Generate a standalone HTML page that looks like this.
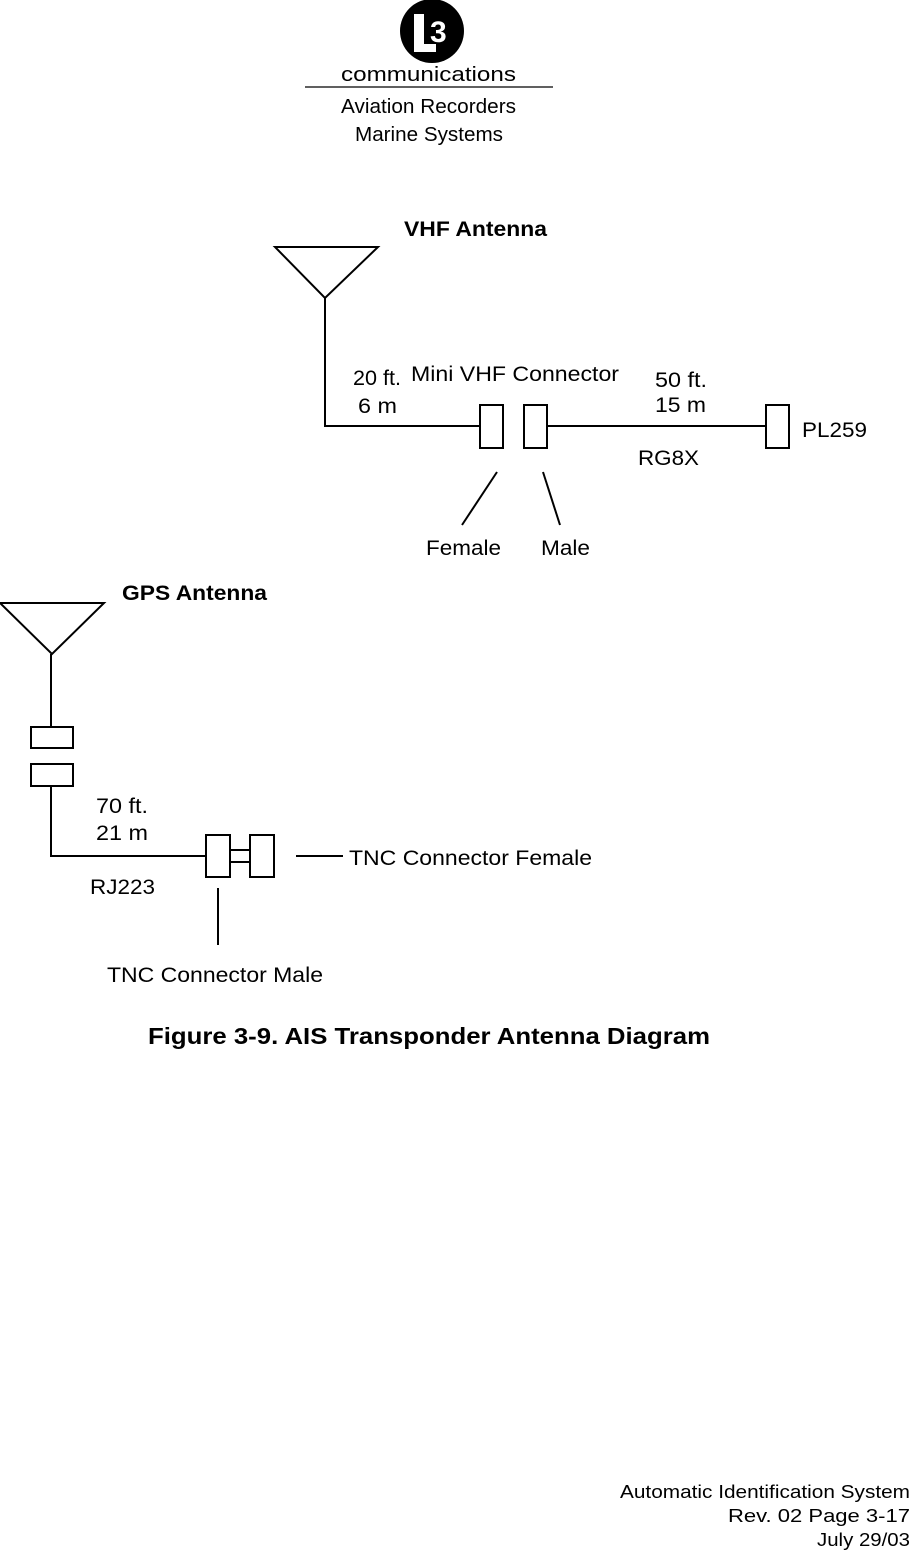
<!DOCTYPE html>
<html><head><style>
body{margin:0;background:#fff;}
svg text{font-family:"Liberation Sans",sans-serif;fill:#000;}
</style></head><body>
<svg width="910" height="1553" xmlns="http://www.w3.org/2000/svg">
<circle cx="432" cy="31" r="32" fill="#000"/>
<rect x="414" y="14" width="10" height="38" fill="#fff"/>
<rect x="414" y="44" width="22" height="8" fill="#fff"/>
<text x="430" y="42" font-size="30" font-weight="bold" style="fill:#fff">3</text>
<text x="341" y="81" font-size="20" textLength="175" lengthAdjust="spacingAndGlyphs">communications</text>
<line x1="305" y1="87" x2="553" y2="87" stroke="#000" stroke-width="1.2"/>
<text x="341" y="113" font-size="20" textLength="175" lengthAdjust="spacingAndGlyphs">Aviation Recorders</text>
<text x="355" y="141" font-size="20" textLength="148" lengthAdjust="spacingAndGlyphs">Marine Systems</text>

<g stroke="#000" stroke-width="2" fill="none">
<polygon points="275,247 378,247 325,298"/>
<polyline points="325,298 325,426 480,426"/>
<rect x="480" y="405" width="23" height="43" fill="#fff"/>
<rect x="524" y="405" width="23" height="43" fill="#fff"/>
<line x1="547" y1="426" x2="766" y2="426"/>
<rect x="766" y="405" width="23" height="43" fill="#fff"/>
<line x1="497" y1="472" x2="462" y2="525"/>
<line x1="543" y1="472" x2="560" y2="525"/>

<polygon points="0,603 104,603 52,654"/>
<line x1="51" y1="654" x2="51" y2="727"/>
<rect x="31" y="727" width="42" height="21"/>
<rect x="31" y="764" width="42" height="22"/>
<polyline points="51,786 51,856 206,856"/>
<rect x="206" y="835" width="24" height="42"/>
<rect x="250" y="835" width="24" height="42"/>
<line x1="230" y1="850" x2="250" y2="850"/>
<line x1="230" y1="862" x2="250" y2="862"/>
<line x1="296" y1="856" x2="343" y2="856"/>
<line x1="218" y1="888" x2="218" y2="945"/>
</g>

<g font-size="21">
<text x="404" y="236" font-weight="bold" textLength="143" lengthAdjust="spacingAndGlyphs">VHF Antenna</text>
<text x="353" y="385" textLength="48" lengthAdjust="spacingAndGlyphs">20 ft.</text>
<text x="358" y="413" textLength="39" lengthAdjust="spacingAndGlyphs">6 m</text>
<text x="411" y="381" textLength="208" lengthAdjust="spacingAndGlyphs">Mini VHF Connector</text>
<text x="655" y="387" textLength="52" lengthAdjust="spacingAndGlyphs">50 ft.</text>
<text x="655" y="412" textLength="51" lengthAdjust="spacingAndGlyphs">15 m</text>
<text x="802" y="437" textLength="65" lengthAdjust="spacingAndGlyphs">PL259</text>
<text x="638" y="465" textLength="61" lengthAdjust="spacingAndGlyphs">RG8X</text>
<text x="426" y="555" textLength="75" lengthAdjust="spacingAndGlyphs">Female</text>
<text x="541" y="555" textLength="49" lengthAdjust="spacingAndGlyphs">Male</text>
<text x="122" y="600" font-weight="bold" textLength="145" lengthAdjust="spacingAndGlyphs">GPS Antenna</text>
<text x="96" y="813" textLength="52" lengthAdjust="spacingAndGlyphs">70 ft.</text>
<text x="96" y="840" textLength="52" lengthAdjust="spacingAndGlyphs">21 m</text>
<text x="349" y="865" textLength="243" lengthAdjust="spacingAndGlyphs">TNC Connector Female</text>
<text x="90" y="894" textLength="65" lengthAdjust="spacingAndGlyphs">RJ223</text>
<text x="107" y="982" textLength="216" lengthAdjust="spacingAndGlyphs">TNC Connector Male</text>
</g>
<text x="148" y="1044" font-size="23" font-weight="bold" textLength="562" lengthAdjust="spacingAndGlyphs">Figure 3‑9.  AIS Transponder Antenna Diagram</text>

<text x="620" y="1498" font-size="18" textLength="290" lengthAdjust="spacingAndGlyphs">Automatic Identification System</text>
<text x="728" y="1522" font-size="18" textLength="182" lengthAdjust="spacingAndGlyphs">Rev. 02  Page 3‑17</text>
<text x="817" y="1546" font-size="18" textLength="93" lengthAdjust="spacingAndGlyphs">July 29/03</text>
</svg>
</body></html>
